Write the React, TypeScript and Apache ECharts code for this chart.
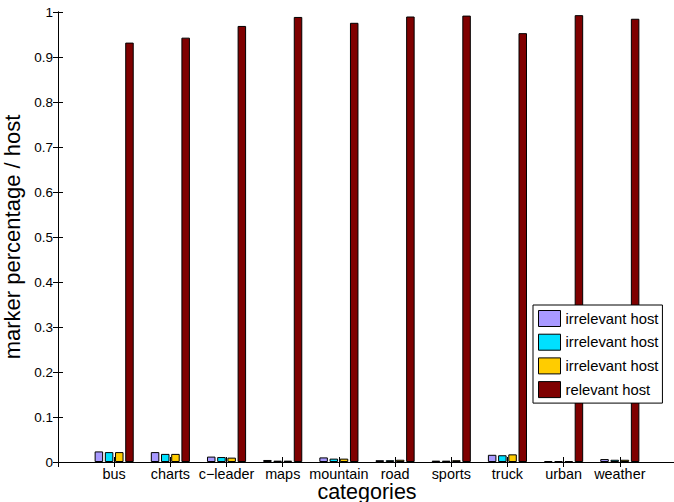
import React, { useEffect, useRef } from "react";
import * as echarts from "echarts";

const categories = ["bus", "charts", "c\u2212leader", "maps", "mountain", "road", "sports", "truck", "urban", "weather"];
const irrelevantA = [0.0235, 0.022, 0.012, 0.0045, 0.0102, 0.004, 0.003, 0.016, 0.002, 0.0065];
const irrelevantB = [0.022, 0.018, 0.011, 0.003, 0.0075, 0.004, 0.003, 0.015, 0.002, 0.005];
const irrelevantC = [0.022, 0.018, 0.0097, 0.003, 0.0075, 0.005, 0.004, 0.017, 0.002, 0.005];
const relevant = [0.932, 0.943, 0.969, 0.989, 0.976, 0.99, 0.992, 0.953, 0.993, 0.985];
const seriesNames = ["irrelevant host 1", "irrelevant host 2", "irrelevant host 3", "relevant host"];
const seriesColors = ["#a899ff", "#00e0ff", "#ffcc00", "#7f0000"];
const yTicks = [0, 0.1, 0.2, 0.3, 0.4, 0.5, 0.6, 0.7, 0.8, 0.9, 1];

const FONT = "Liberation Sans, Arial, Helvetica, sans-serif";

export default function App() {
  const ref = useRef<HTMLDivElement>(null);
  useEffect(() => {
    if (!ref.current) return;
    const chart = echarts.init(ref.current, undefined, { renderer: "svg" });
    const allData = [irrelevantA, irrelevantB, irrelevantC, relevant];
    const axisLineStyle = { color: "#000", width: 1 };
    chart.setOption({
      animation: false,
      textStyle: { fontFamily: FONT },
      grid: { left: 58, right: -2, top: 12, bottom: 40, show: false, containLabel: false, outerBoundsMode: "none" },
      legend: {
        orient: "vertical",
        left: 533,
        top: 305,
        padding: [5, 4, 5, 5],
        itemGap: 6.7,
        itemWidth: 22,
        itemHeight: 16,
        icon: "rect",
        borderColor: "#000",
        borderWidth: 1,
        borderRadius: 0,
        backgroundColor: "#fff",
        data: seriesNames,
        formatter: (n: string) => n.replace(/ \d$/, ""),
        textStyle: { fontFamily: FONT, fontSize: 14.8, color: "#000" },
        itemStyle: { borderColor: "#000", borderWidth: 1 },
      },
      xAxis: [
        {
          type: "value",
          min: 0,
          max: 11,
          interval: 1,
          name: "categories",
          nameLocation: "middle",
          nameGap: 29.5,
          nameMoveOverlap: false,
          nameTextStyle: { fontFamily: FONT, fontSize: 21.5, lineHeight: 16, color: "#000", verticalAlign: "middle" },
          axisLine: { show: true, lineStyle: axisLineStyle },
          axisTick: { show: true, inside: true, length: 5, lineStyle: axisLineStyle },
          axisLabel: {
            margin: 5,
            fontFamily: FONT,
            fontSize: 14.4,
            lineHeight: 14,
            color: "#000",
            formatter: (v: number) => (v >= 1 && v <= categories.length ? categories[v - 1] : ""),
          },
          splitLine: { show: false },
        },
        {
          type: "value",
          position: "top",
          min: 0,
          max: 11,
          interval: 1,
          axisLine: { show: true, lineStyle: axisLineStyle },
          axisTick: { show: true, inside: true, length: 5, lineStyle: axisLineStyle },
          axisLabel: { show: false },
          splitLine: { show: false },
        },
      ],
      yAxis: [
        {
          type: "value",
          min: 0,
          max: 1,
          interval: 0.1,
          name: "marker percentage / host",
          nameLocation: "middle",
          nameGap: 32,
          nameTextStyle: { fontFamily: FONT, fontSize: 22, color: "#000" },
          axisLine: { show: true, lineStyle: axisLineStyle },
          axisTick: { show: true, inside: true, length: 5, lineStyle: axisLineStyle },
          axisLabel: {
            margin: 5,
            fontFamily: FONT,
            fontSize: 13.5,
            color: "#000",
            formatter: (v: number) => {
              const t = yTicks.find((y) => Math.abs(y - v) < 1e-6);
              return t === undefined ? "" : String(t);
            },
          },
          splitLine: { show: false },
        },
        {
          type: "value",
          position: "right",
          min: 0,
          max: 1,
          interval: 0.1,
          axisLine: { show: true, lineStyle: axisLineStyle },
          axisTick: { show: true, inside: true, length: 5, lineStyle: axisLineStyle },
          axisLabel: { show: false },
          splitLine: { show: false },
        },
      ],
      series: allData.map((arr, i) => ({
        name: seriesNames[i],
        type: "bar",
        xAxisIndex: 0,
        yAxisIndex: 0,
        barWidth: 8.5,
        barGap: "20%",
        itemStyle: { color: seriesColors[i], borderColor: "#000", borderWidth: 1 },
        data: arr.map((v, j) => [j + 1, v]),
      })),
    });
    return () => chart.dispose();
  }, []);
  return (
    <div
      ref={ref}
      style={{ position: "absolute", left: 0, top: 0, width: 674, height: 502, background: "#fff" }}
    />
  );
}
